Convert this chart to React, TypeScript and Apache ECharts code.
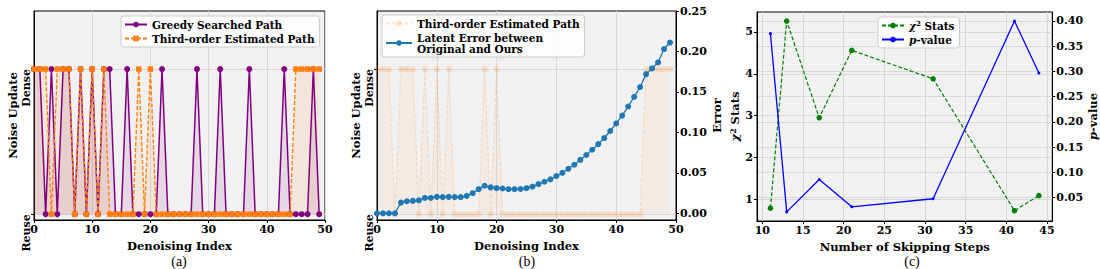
import React, { useEffect, useRef } from 'react';
import * as echarts from 'echarts';

// ---------- data ----------
const denoisingIndex = [
  0, 1, 2, 3, 4, 5, 6, 7, 8, 9, 10, 11, 12, 13, 14, 15, 16, 17, 18, 19, 20, 21, 22, 23, 24,
  25, 26, 27, 28, 29, 30, 31, 32, 33, 34, 35, 36, 37, 38, 39, 40, 41, 42, 43, 44, 45, 46, 47, 48, 49,
];
// 1 = Dense (noise update), 0 = Reuse
const greedySearchedPath = [
  1, 1, 0, 1, 0, 1, 1, 0, 1, 0, 1, 0, 1, 1, 0, 0, 1, 0, 0, 0, 0, 0, 1, 0, 0,
  0, 0, 0, 1, 0, 0, 0, 1, 0, 0, 0, 0, 1, 0, 0, 0, 0, 0, 1, 0, 0, 0, 0, 1, 0,
];
const thirdOrderEstimatedPath = [
  1, 1, 1, 0, 1, 1, 1, 0, 1, 0, 1, 0, 1, 0, 0, 0, 0, 0, 1, 0, 1, 0, 0, 0, 0,
  0, 0, 0, 0, 0, 0, 0, 0, 0, 0, 0, 0, 0, 0, 0, 0, 0, 0, 0, 0, 1, 1, 1, 1, 1,
];
const latentError = [
  0.0, 0.0, 0.0, 0.0, 0.0132, 0.0149, 0.0153, 0.016, 0.019, 0.019, 0.0203, 0.020, 0.0203, 0.020, 0.020,
  0.0215, 0.0248, 0.0298, 0.034, 0.032, 0.031, 0.0306, 0.0298, 0.0298, 0.030, 0.031, 0.033, 0.036,
  0.039, 0.042, 0.046, 0.050, 0.055, 0.060, 0.066, 0.072, 0.0785, 0.0855, 0.093, 0.1017, 0.111,
  0.1207, 0.132, 0.1438, 0.156, 0.172, 0.179, 0.1864, 0.203, 0.211,
];
const pathTickLabels = ['Reuse', 'Dense'];
const pathTickValues = [0, 1];
const errorTicks = [0, 0.05, 0.1, 0.15, 0.2, 0.25];

const skippingSteps = [11, 13, 17, 21, 31, 41, 44];
const chi2Stats = [0.79, 5.26, 2.95, 4.56, 3.88, 0.73, 1.09];
const pValues = [0.375, 0.022, 0.086, 0.032, 0.048, 0.4, 0.297];
const skipTicks = [10, 15, 20, 25, 30, 35, 40, 45];
const chiTicks = [1, 2, 3, 4, 5];
const pTicks = [0.05, 0.1, 0.15, 0.2, 0.25, 0.3, 0.35, 0.4];

const legendLabels: Record<string, string> = {
  greedy: 'Greedy Searched Path',
  thirdA: 'Third-order Estimated Path',
  thirdB: 'Third-order Estimated Path',
  error: 'Latent Error between\nOriginal and Ours',
  chi2: '{i|χ}{s|2} Stats',
  pval: '{i|p}-value',
};

const FONT = 'DejaVu Serif';
const PURPLE = '#800080';
const ORANGE = '#ff7f0e';
const BLUE_T = '#1f77b4';
const GREEN = '#008000';
const BLUE = '#0000ff';

export default function App() {
  const ref = useRef<HTMLDivElement>(null);

  useEffect(() => {
    if (!ref.current) return;
    const chart = echarts.init(ref.current, undefined, { renderer: 'svg' });

    const tickTxt = { fontFamily: FONT, fontWeight: 'bold' as const, fontSize: 11, color: '#000' };
    const titleTxt = { fontFamily: FONT, fontWeight: 'bold' as const, fontSize: 11.5, color: '#000' };
    const legendTxt = { fontFamily: FONT, fontWeight: 'bold' as const, fontSize: 10.5, color: '#000' };
    const rich = (size: number) => ({
      i: { fontFamily: FONT, fontWeight: 'bold' as const, fontStyle: 'italic' as const, fontSize: size, color: '#000' },
      s: { fontFamily: FONT, fontWeight: 'bold' as const, fontSize: size * 0.68, color: '#000', verticalAlign: 'top' as const },
    });
    const gridLine = { show: true, lineStyle: { color: '#d8d8d8', width: 1 } };
    const axLine = { show: true, onZero: false, lineStyle: { color: '#000', width: 1 } };
    const tick = (vals?: number[]) => ({
      show: true,
      length: 3,
      lineStyle: { color: '#000', width: 1 },
      ...(vals ? { customValues: vals } : {}),
    });
    const gridBase = {
      show: true,
      backgroundColor: '#f1f1f1',
      borderColor: '#000',
      borderWidth: 1,
      containLabel: false,
    };
    const legendBase = {
      orient: 'vertical' as const,
      itemWidth: 22,
      itemHeight: 7,
      itemGap: 3,
      padding: [3, 5, 3, 3],
      backgroundColor: 'rgba(255,255,255,0.85)',
      borderColor: '#cccccc',
      borderWidth: 1,
      borderRadius: 3,
      selectedMode: false,
      textStyle: { ...legendTxt, rich: rich(10.5) },
      formatter: (n: string) => legendLabels[n] ?? n,
    };

    const option: any = {
      animation: false,
      grid: [
        { ...gridBase, left: 34, top: 11, width: 291, height: 209 },
        { ...gridBase, left: 377, top: 11, width: 299, height: 209 },
        { ...gridBase, left: 757, top: 12, width: 301, height: 209 },
      ],
      xAxis: [
        {
          gridIndex: 0, type: 'value', min: 0, max: 50, interval: 10,
          axisLine: axLine, axisTick: tick(), splitLine: gridLine,
          axisLabel: { ...tickTxt, margin: 4 },
          name: 'Denoising Index', nameLocation: 'middle', nameGap: 17, nameTextStyle: titleTxt,
        },
        {
          gridIndex: 1, type: 'value', min: 0, max: 50, interval: 10,
          axisLine: axLine, axisTick: tick(), splitLine: gridLine,
          axisLabel: { ...tickTxt, margin: 4 },
          name: 'Denoising Index', nameLocation: 'middle', nameGap: 17, nameTextStyle: titleTxt,
        },
        {
          gridIndex: 2, type: 'value', min: 9.35, max: 45.65,
          axisLine: axLine, axisTick: tick(skipTicks), splitLine: gridLine,
          axisLabel: { ...tickTxt, margin: 4, customValues: skipTicks },
          name: 'Number of Skipping Steps', nameLocation: 'middle', nameGap: 17, nameTextStyle: titleTxt,
        },
      ],
      yAxis: [
        {
          gridIndex: 0, type: 'value', min: -0.04, max: 1.4,
          axisLine: axLine, axisTick: tick(pathTickValues), splitLine: gridLine,
          axisLabel: {
            ...tickTxt, margin: 2, rotate: 90, align: 'right', customValues: pathTickValues,
            formatter: (v: number) => pathTickLabels[Math.round(v)],
          },
          name: 'Noise Update', nameLocation: 'middle', nameGap: 15, nameRotate: 90, nameTextStyle: titleTxt,
        },
        {
          gridIndex: 1, type: 'value', min: -0.04, max: 1.4,
          axisLine: axLine, axisTick: tick(pathTickValues), splitLine: gridLine,
          axisLabel: {
            ...tickTxt, margin: 2, rotate: 90, align: 'right', customValues: pathTickValues,
            formatter: (v: number) => pathTickLabels[Math.round(v)],
          },
          name: 'Noise Update', nameLocation: 'middle', nameGap: 15, nameRotate: 90, nameTextStyle: titleTxt,
        },
        {
          gridIndex: 1, type: 'value', position: 'right', min: -0.0083, max: 0.25,
          axisLine: axLine, axisTick: tick(errorTicks), splitLine: { show: false },
          axisLabel: { ...tickTxt, margin: 4, customValues: errorTicks, formatter: (v: number) => v.toFixed(2) },
          name: 'Error', nameLocation: 'middle', nameGap: 35, nameRotate: 90, nameTextStyle: titleTxt,
        },
        {
          gridIndex: 2, type: 'value', min: 0.483, max: 5.477,
          axisLine: axLine, axisTick: tick(chiTicks), splitLine: gridLine,
          axisLabel: { ...tickTxt, margin: 4, customValues: chiTicks },
          name: '{i|χ}{s|2} Stats', nameLocation: 'middle', nameGap: 12, nameRotate: 90,
          nameTextStyle: { ...titleTxt, rich: rich(11.5) },
        },
        {
          gridIndex: 2, type: 'value', position: 'right', min: 0.0039, max: 0.4178,
          axisLine: axLine, axisTick: tick(pTicks), splitLine: gridLine,
          axisLabel: { ...tickTxt, margin: 4, customValues: pTicks, formatter: (v: number) => v.toFixed(2) },
          name: '{i|p}-value', nameLocation: 'middle', nameGap: 34, nameRotate: 90,
          nameTextStyle: { ...titleTxt, rich: rich(11.5) },
        },
      ],
      legend: [
        { ...legendBase, data: ['greedy', 'thirdA'], left: 121, top: 16 },
        { ...legendBase, data: ['thirdB', 'error'], left: 382, top: 15, itemWidth: 26 },
        { ...legendBase, data: ['chi2', 'pval'], left: 878, top: 17 },
      ],
      series: [
        {
          name: 'greedy', type: 'line', xAxisIndex: 0, yAxisIndex: 0,
          data: denoisingIndex.map((x, i) => [x, greedySearchedPath[i]]),
          color: PURPLE, symbol: 'circle', symbolSize: 6, showSymbol: true,
          lineStyle: { width: 1.5, color: PURPLE },
          itemStyle: { color: PURPLE },
          areaStyle: { color: PURPLE, opacity: 0.1 },
        },
        {
          name: 'thirdA', type: 'line', xAxisIndex: 0, yAxisIndex: 0,
          data: denoisingIndex.map((x, i) => [x, thirdOrderEstimatedPath[i]]),
          color: ORANGE, symbol: 'rect', symbolSize: 5.5, showSymbol: true,
          lineStyle: { width: 1.4, color: ORANGE, type: [4, 2] },
          itemStyle: { color: ORANGE },
          areaStyle: { color: ORANGE, opacity: 0.1 },
        },
        {
          name: 'thirdB', type: 'line', xAxisIndex: 1, yAxisIndex: 1,
          data: denoisingIndex.map((x, i) => [x, thirdOrderEstimatedPath[i]]),
          color: ORANGE, symbol: 'rect', symbolSize: 5.5, showSymbol: true,
          lineStyle: { width: 1.3, color: ORANGE, type: [4, 2], opacity: 0.18 },
          itemStyle: { color: ORANGE, opacity: 0.18 },
          areaStyle: { color: ORANGE, opacity: 0.05 },
        },
        {
          name: 'error', type: 'line', xAxisIndex: 1, yAxisIndex: 2,
          data: denoisingIndex.map((x, i) => [x, latentError[i]]),
          color: BLUE_T, symbol: 'circle', symbolSize: 6, showSymbol: true,
          lineStyle: { width: 1.3, color: BLUE_T },
          itemStyle: { color: BLUE_T },
        },
        {
          name: 'chi2', type: 'line', xAxisIndex: 2, yAxisIndex: 3,
          data: skippingSteps.map((x, i) => [x, chi2Stats[i]]),
          color: GREEN, symbol: 'circle', symbolSize: 5.5, showSymbol: true,
          lineStyle: { width: 1.2, color: GREEN, type: [4, 2] },
          itemStyle: { color: GREEN },
        },
        {
          name: 'pval', type: 'line', xAxisIndex: 2, yAxisIndex: 4,
          data: skippingSteps.map((x, i) => [x, pValues[i]]),
          color: BLUE, symbol: 'circle', symbolSize: 3, showSymbol: true,
          lineStyle: { width: 1.3, color: BLUE },
          itemStyle: { color: BLUE },
        },
      ],
      graphic: [
        { type: 'text', x: 179, y: 261, style: { text: '(a)', fontFamily: 'Liberation Serif', fontSize: 14, fill: '#000', textAlign: 'center', textVerticalAlign: 'middle' } },
        { type: 'text', x: 527, y: 261, style: { text: '(b)', fontFamily: 'Liberation Serif', fontSize: 14, fill: '#000', textAlign: 'center', textVerticalAlign: 'middle' } },
        { type: 'text', x: 912, y: 261, style: { text: '(c)', fontFamily: 'Liberation Serif', fontSize: 14, fill: '#000', textAlign: 'center', textVerticalAlign: 'middle' } },
      ],
    };

    chart.setOption(option);
    return () => chart.dispose();
  }, []);

  return (
    <div
      ref={ref}
      style={{ position: 'absolute', left: 0, top: 0, width: 1100, height: 269, background: '#fff' }}
    />
  );
}
